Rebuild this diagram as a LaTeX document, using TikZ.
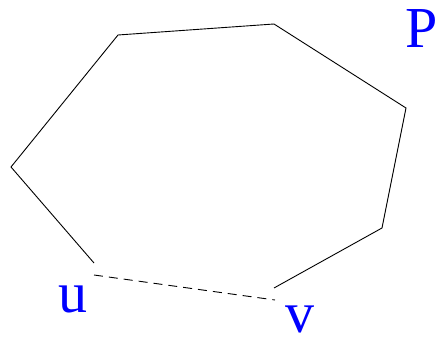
\documentclass[tikz,border=0pt]{standalone}
\usepackage{fontspec}
\setmainfont{Liberation Serif}
\begin{document}
\begin{tikzpicture}[x=1pt,y=-1pt,
  edge/.style={draw=black,line width=0.9pt},
  gap/.style={draw=black,line width=0.9pt,dash pattern=on 9pt off 6pt},
  lbl/.style={text=blue,font=\fontsize{58}{58}\selectfont,inner sep=0pt,anchor=base}]
\useasboundingbox (0,0) rectangle (438,339);
\coordinate (a) at (94,263);
\coordinate (b) at (11,167);
\coordinate (c) at (118,35);
\coordinate (d) at (274,24);
\coordinate (e) at (406,108);
\coordinate (f) at (382,228);
\coordinate (g) at (274,288);
\coordinate (du) at (94,275);
\coordinate (dv) at (275,300);
\draw[edge] (a) -- (b) -- (c) -- (d) -- (e) -- (f) -- (g);
\draw[gap] (du) -- (dv);
\node[lbl] (u) at (73,312) {u};
\node[lbl] (v) at (300,332) {v};
\node[lbl] (P) at (422,48) {P};
\end{tikzpicture}
\end{document}
